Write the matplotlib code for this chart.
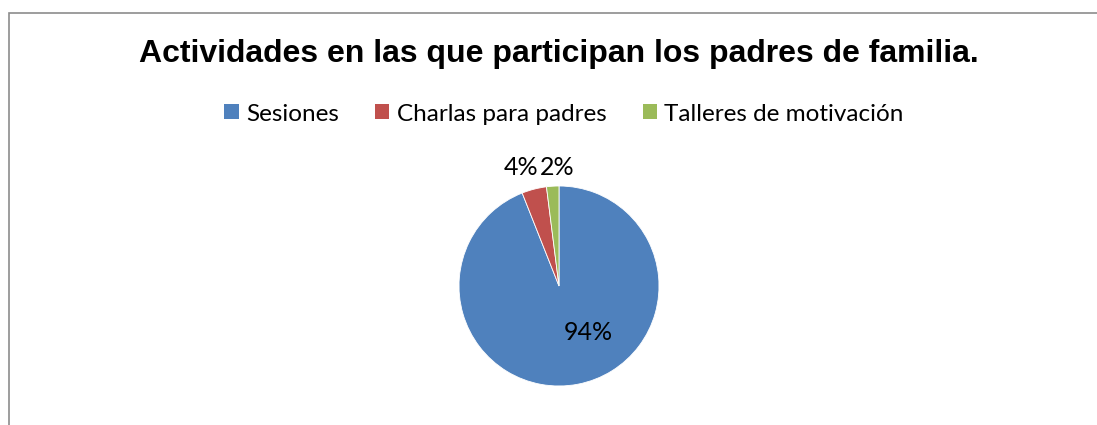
import numpy as np
import matplotlib.pyplot as plt
from matplotlib.patches import Rectangle

categories = ['Sesiones', 'Charlas para padres', 'Talleres de motivación']
values = [94, 4, 2]
labels = ['94%', '4%', '2%']
colors = ['#4F81BD', '#C0504D', '#9BBB59']

W, H = 1097, 425
fig = plt.figure(figsize=(W / 100, H / 100), dpi=100)

# chart frame (runs off right and bottom edges)
fig.patches.append(Rectangle((9 / W, -0.1), 1.2, (H - 13) / H + 0.1, transform=fig.transFigure,
                             fill=False, edgecolor='#8c8c8c', linewidth=1.2))

fig.text(559 / W, 1 - 54 / H, 'Actividades en las que participan los padres de familia.',
         ha='center', va='center', fontsize=23, fontweight='bold', family='Liberation Sans')

r = 100
ax = fig.add_axes([(559 - r) / W, (H - 286 - r) / H, 2 * r / W, 2 * r / H])
wedges, _ = ax.pie(values, colors=colors, startangle=90, counterclock=False,
                   wedgeprops=dict(edgecolor='white', linewidth=0.6))
ax.set_xlim(-1, 1)
ax.set_ylim(-1, 1)
ax.set_aspect('equal')

# label spots (Excel best-fit style): inside for the big slice, above for the small ones
spots = [(0.29, -0.47, 'center'), (-0.205, 1.19, 'right'), (-0.195, 1.19, 'left')]
for lab, (x, y, ha) in zip(labels, spots):
    ax.text(x, y, lab, ha=ha, va='center', fontsize=18, family='Lato', clip_on=False)

handles = [Rectangle((0, 0), 1, 1, facecolor=c) for c in colors]
fig.legend(handles, categories, loc='center', bbox_to_anchor=(564 / W, 1 - 114 / H), ncol=3,
           frameon=False, prop=dict(family='Lato', size=17.5), handlelength=0.58, handleheight=0.58,
           handletextpad=0.3, columnspacing=1.5)

fig.savefig('out.png', dpi=100)
